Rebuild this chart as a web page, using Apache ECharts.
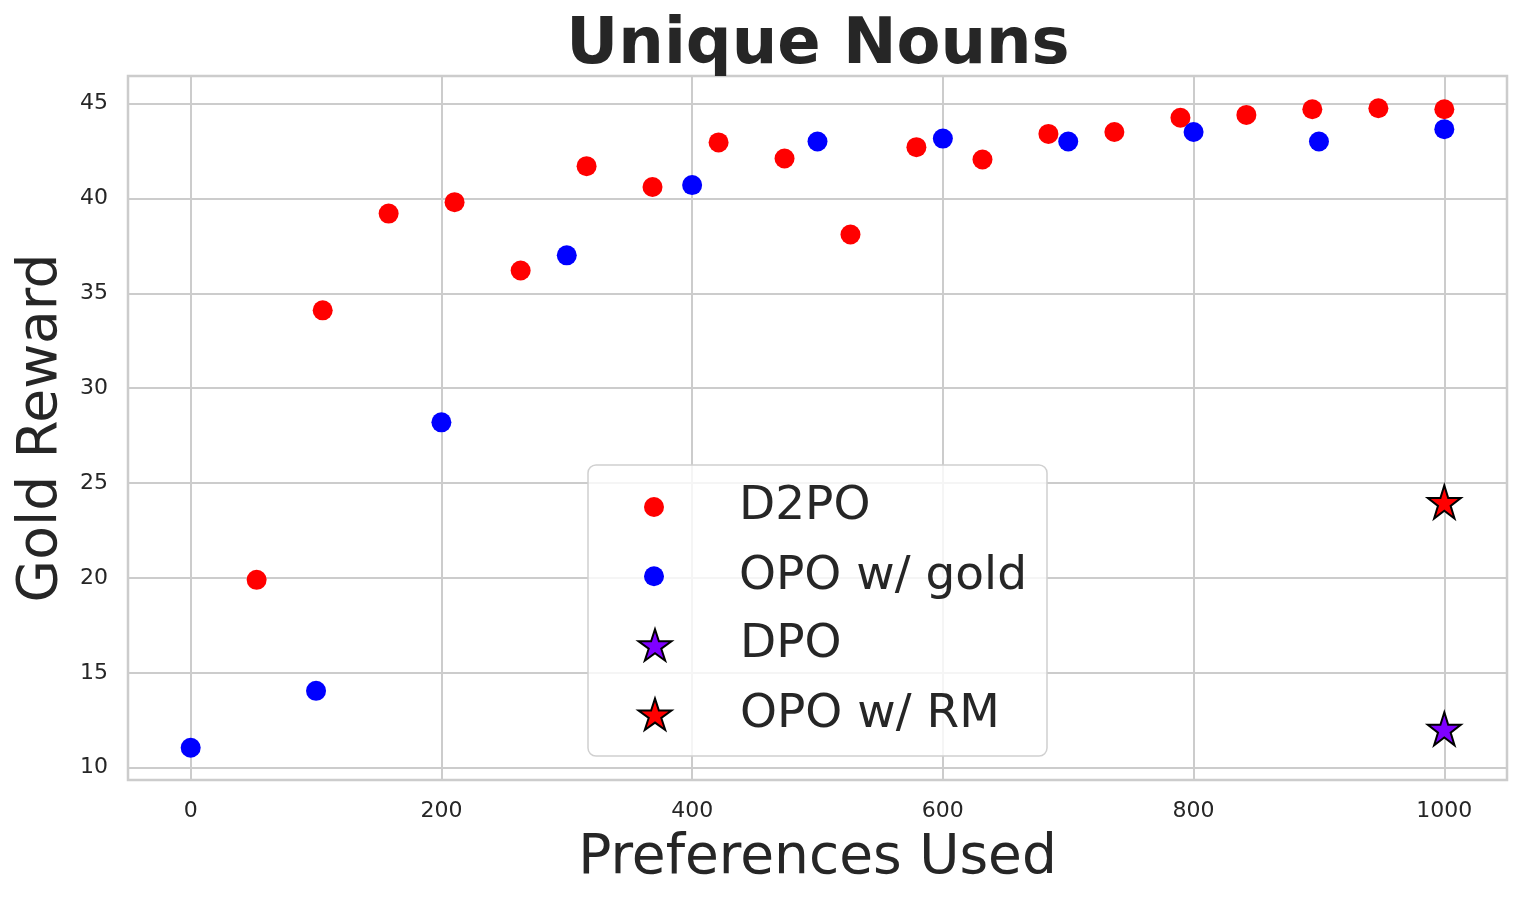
<!DOCTYPE html>
<html>
<head>
<meta charset="utf-8">
<script src="https://cdn.jsdelivr.net/npm/echarts@6/dist/echarts.min.js"></script>
<style>
html,body{margin:0;padding:0;background:#fff;}
#chart{width:1523px;height:902px;}
</style>
</head>
<body>
<div id="chart"></div>
<script>
// ---- data ----
const d2poX = [52.6, 105.3, 157.9, 210.5, 263.2, 315.8, 368.4, 421.1, 473.7, 526.3, 578.9, 631.6, 684.2, 736.8, 789.5, 842.1, 894.7, 947.4, 1000];
const d2poY = [19.9, 34.1, 39.2, 39.8, 36.2, 41.7, 40.6, 42.95, 42.1, 38.1, 42.7, 42.05, 43.4, 43.5, 44.25, 44.4, 44.7, 44.75, 44.7];
const opoGoldX = [0, 100, 200, 300, 400, 500, 600, 700, 800, 900, 1000];
const opoGoldY = [11.05, 14.05, 28.2, 37.0, 40.7, 43.0, 43.15, 43.0, 43.5, 43.0, 43.65];
const dpoPoint = [1000, 12.05];
const opoRmPoint = [1000, 24.0];
const xTicks = [0, 200, 400, 600, 800, 1000];
const yTicks = [10, 15, 20, 25, 30, 35, 40, 45];

const STAR = 'path://M50,0 L61.23,34.55 L97.55,34.55 L68.17,55.9 L79.39,90.45 L50,69.1 L20.61,90.45 L31.83,55.9 L2.45,34.55 L38.77,34.55 Z';
const FONT = 'DejaVu Sans';
const TXT = '#262626';

const zip = (xs, ys) => xs.map((x, i) => [x, ys[i]]);

const chart = echarts.init(document.getElementById('chart'), null, {renderer: 'canvas'});
chart.setOption({
  backgroundColor: '#ffffff',
  animation: false,
  title: {
    text: 'Unique Nouns',
    left: 818,
    top: 14,
    padding: 0,
    textAlign: 'center',
    textStyle: {fontFamily: FONT, fontWeight: 'bold', fontSize: 64, color: TXT}
  },
  grid: {
    left: 128, right: 16, top: 76, bottom: 122,
    show: true, borderColor: '#cccccc', borderWidth: 2.5, backgroundColor: 'transparent'
  },
  xAxis: {
    type: 'value', min: -50, max: 1050,
    name: 'Preferences Used', nameLocation: 'middle', nameGap: 51,
    nameTextStyle: {fontFamily: FONT, fontSize: 55, color: TXT},
    axisLine: {show: false},
    axisTick: {show: false, customValues: xTicks},
    axisLabel: {customValues: xTicks, fontFamily: FONT, fontSize: 22, color: TXT, margin: 20,
      formatter: v => String(v)},
    splitLine: {show: true, lineStyle: {color: '#cccccc', width: 2}}
  },
  yAxis: {
    type: 'value', min: 9.35, max: 46.45,
    name: 'Gold Reward', nameLocation: 'middle', nameGap: 58,
    nameTextStyle: {fontFamily: FONT, fontSize: 55, color: TXT},
    axisLine: {show: false},
    axisTick: {show: false, customValues: yTicks},
    axisLabel: {customValues: yTicks, fontFamily: FONT, fontSize: 22, color: TXT, margin: 20,
      formatter: v => String(v)},
    splitLine: {show: true, lineStyle: {color: '#cccccc', width: 2}}
  },
  graphic: [{
    type: 'rect', z: 3,
    shape: {x: 588, y: 465, width: 459, height: 291, r: 8},
    style: {fill: 'rgba(255,255,255,0.8)', stroke: '#d0d0d0', lineWidth: 1.5}
  }],
  legend: [{
    orient: 'vertical', left: 644, top: 482, padding: 0,
    itemWidth: 20, itemHeight: 20, itemGap: 19.3,
    data: [{name: 'D2PO', icon: 'circle'}, {name: 'OPO w/ gold', icon: 'circle'}],
    textStyle: {fontFamily: FONT, fontSize: 47, color: TXT, lineHeight: 50, padding: [0, 0, 0, 70]},
    selectedMode: false
  }, {
    orient: 'vertical', left: 637.5, top: 620, padding: 0,
    itemWidth: 33, itemHeight: 33, itemGap: 19.3,
    data: [{name: 'DPO', icon: STAR}, {name: 'OPO w/ RM', icon: STAR}],
    textStyle: {fontFamily: FONT, fontSize: 47, color: TXT, lineHeight: 50, padding: [0, 0, 0, 63.5]},
    selectedMode: false
  }],
  series: [{
    name: 'D2PO', type: 'scatter', symbol: 'circle', symbolSize: 20,
    itemStyle: {color: '#ff0000', opacity: 1},
    data: zip(d2poX, d2poY)
  }, {
    name: 'OPO w/ gold', type: 'scatter', symbol: 'circle', symbolSize: 20,
    itemStyle: {color: '#0000ff', opacity: 1},
    data: zip(opoGoldX, opoGoldY)
  }, {
    name: 'DPO', type: 'scatter', symbol: STAR, symbolSize: 33,
    itemStyle: {color: '#7f00ff', borderColor: '#000000', borderWidth: 2, opacity: 1},
    data: [dpoPoint]
  }, {
    name: 'OPO w/ RM', type: 'scatter', symbol: STAR, symbolSize: 33,
    itemStyle: {color: '#ff0000', borderColor: '#000000', borderWidth: 2, opacity: 1},
    data: [opoRmPoint]
  }]
});
</script>
</body>
</html>
